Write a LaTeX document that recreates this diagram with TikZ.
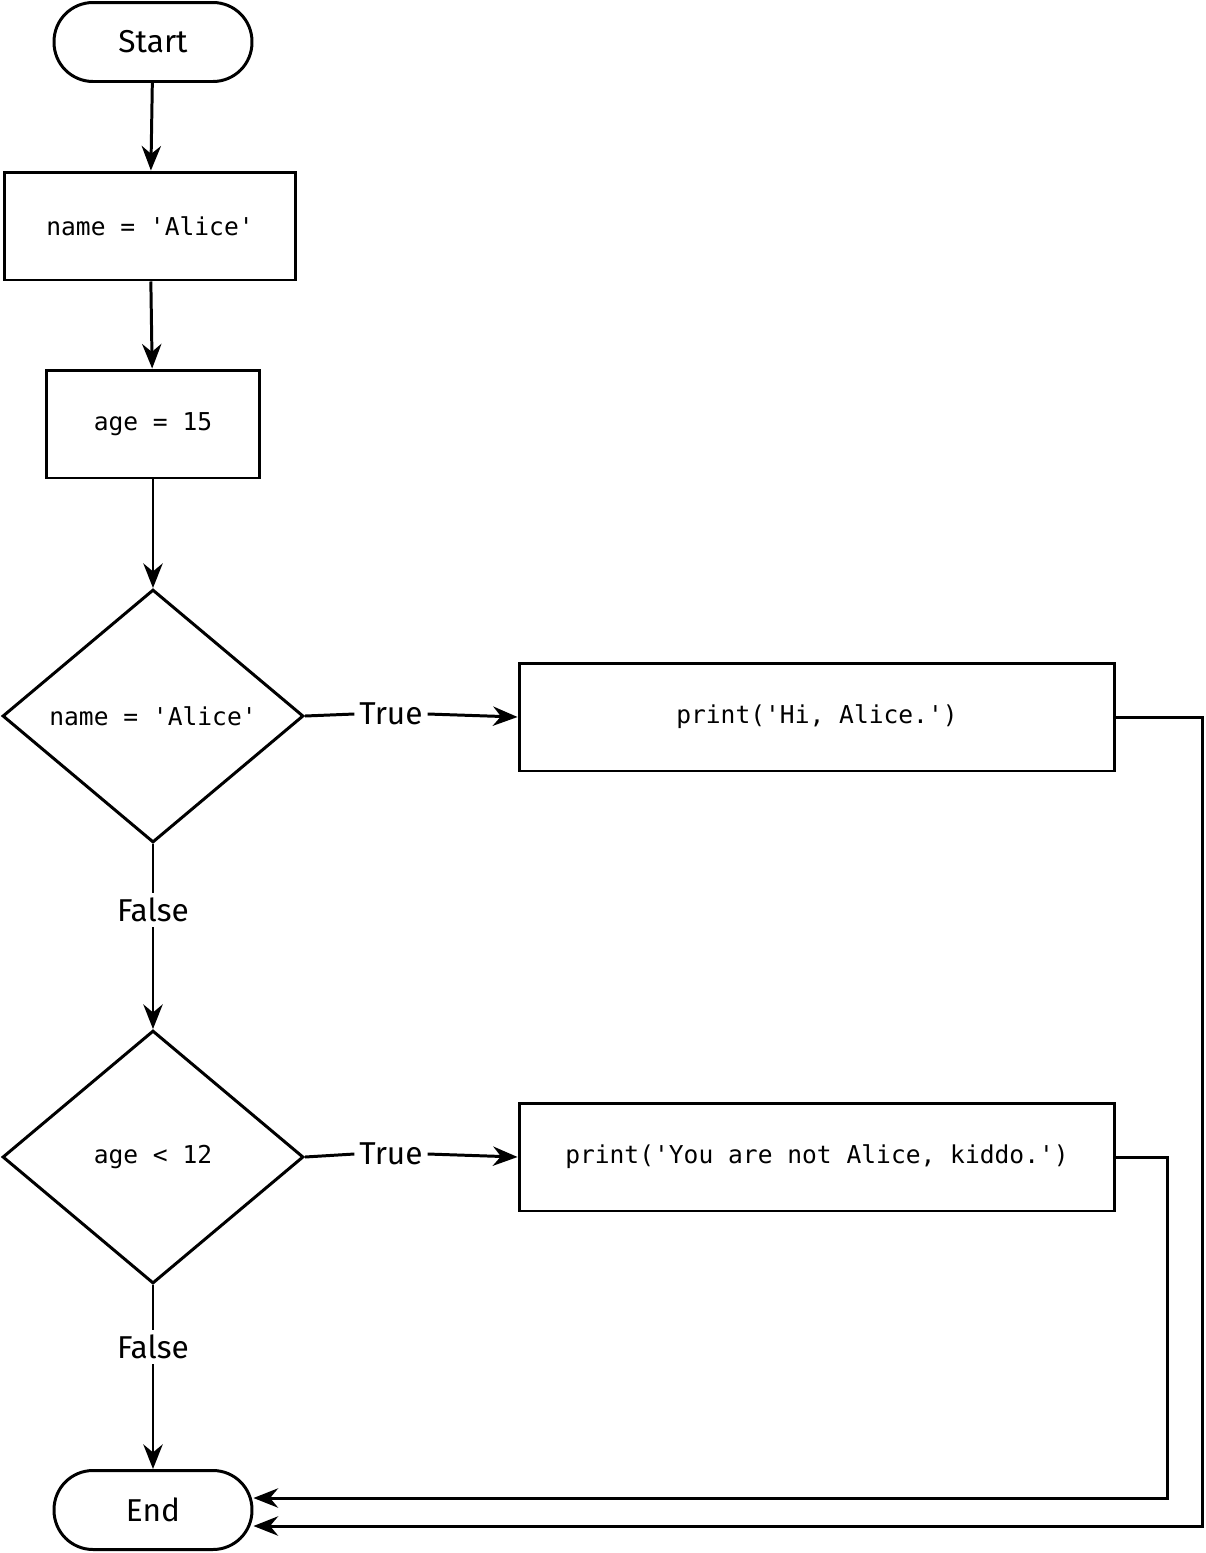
\documentclass[tikz,border=0pt]{standalone}
\usepackage{fontspec}
\setmainfont{Fira Sans}
\newfontfamily\codefont{DejaVu Sans Mono}
\usetikzlibrary{shapes.geometric,arrows.meta}
\begin{document}
\begin{tikzpicture}[x=0.02cm,y=-0.02cm,
  every path/.style={line width=1.7pt},
  term/.style={draw,rectangle,rounded corners=0.78cm,minimum width=3.96cm,minimum height=1.58cm,font=\fontsize{18}{20}\selectfont},
  box/.style={draw,rectangle,minimum height=2.16cm,font=\codefont\fontsize{14}{16}\selectfont},
  dec/.style={draw,diamond,minimum width=6.02cm,minimum height=5.06cm,inner sep=0pt,font=\codefont\fontsize{14}{16}\selectfont},
  lab/.style={inner sep=2pt,font=\fontsize{18}{20}\selectfont},
  arr/.style={-{Stealth[length=14pt,width=11pt]}}]
\useasboundingbox (0,0) rectangle (1206,1553);
\node[term] (start) at (153,42) {Start};
\node[box,minimum width=5.82cm] (name) at (150,226) {name = 'Alice'};
\node[box,minimum width=4.26cm] (age) at (153,424) {age = 15};
\node[dec] (d1) at (153,716) {name = 'Alice'};
\node[dec] (d2) at (153,1157) {age < 12};
\node[term] (end) at (153,1510) {End};
\node[box,minimum width=11.92cm] (p1) at (817,717) {print('Hi, Alice.')};
\node[box,minimum width=11.92cm] (p2) at (817,1157) {print('You are not Alice, kiddo.')};
\node[lab] (t1) at (391,714) {True};
\node[lab] (t2) at (391,1154) {True};
\node[lab] (f1) at (153,910) {False};
\node[lab] (f2) at (153,1347) {False};
\coordinate (c1) at (1202,717);
\coordinate (c1b) at (1202,1526);
\coordinate (c2) at (1167,1157);
\coordinate (c2b) at (1167,1498);
\draw[arr] (start) -- (name);
\draw[arr] (name) -- (age);
\draw[arr] (age) -- (d1);
\draw (d1.east) -- (t1.west);
\draw[arr] (t1.east) -- (p1.west);
\draw (d1.south) -- (f1.north);
\draw[arr] (f1.south) -- (d2.north);
\draw (d2.east) -- (t2.west);
\draw[arr] (t2.east) -- (p2.west);
\draw (d2.south) -- (f2.north);
\draw[arr] (f2.south) -- (end.north);
\draw[arr] (p1.east) -- (c1) -- (c1b) -- (end.east |- c1b);
\draw[arr] (p2.east) -- (c2) -- (c2b) -- (end.east |- c2b);
\end{tikzpicture}
\end{document}
